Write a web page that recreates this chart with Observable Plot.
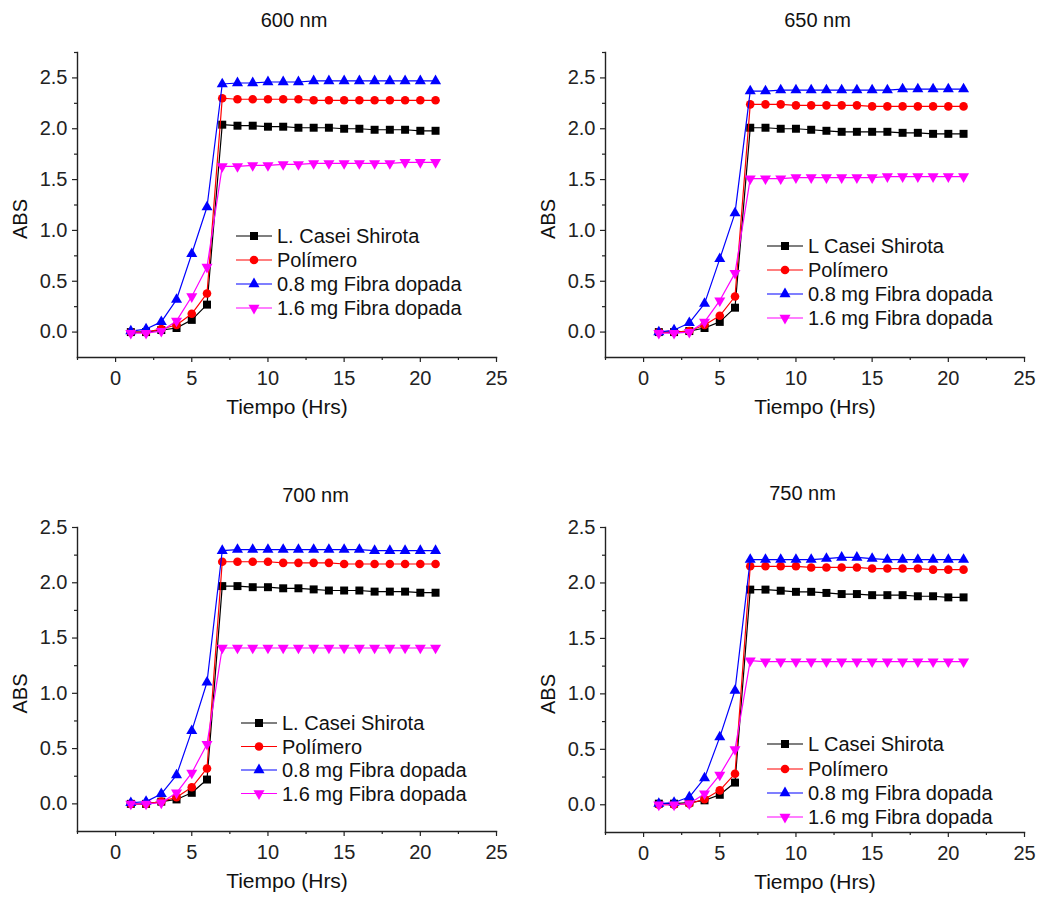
<!DOCTYPE html>
<html><head><meta charset="utf-8">
<script src="https://cdn.jsdelivr.net/npm/d3@7"></script>
<script src="https://cdn.jsdelivr.net/npm/@observablehq/plot@0.6"></script>
<style>
body{margin:0;background:#fff;}
#fig{position:relative;width:1039px;height:897px;font-family:"Liberation Sans",Arial,sans-serif;}
#fig > svg{position:absolute;}
</style></head><body><div id="fig"></div>
<script>
// ---------- data ----------
const hours = [1,2,3,4,5,6,7,8,9,10,11,12,13,14,15,16,17,18,19,20,21];
const seriesNames = ["L. Casei Shirota","Polímero","0.8 mg Fibra dopada","1.6 mg Fibra dopada"];
const seriesColors = ["#000000","#ff0000","#0000ff","#ff00ff"];

const nm600_casei    = [0.00,0.00,0.02,0.04,0.12,0.27,2.04,2.03,2.03,2.02,2.02,2.01,2.01,2.01,2.00,2.00,1.99,1.99,1.99,1.98,1.98];
const nm600_polimero = [0.00,0.00,0.03,0.07,0.18,0.38,2.30,2.29,2.29,2.29,2.29,2.29,2.28,2.28,2.28,2.28,2.28,2.28,2.28,2.28,2.28];
const nm600_fibra08  = [0.01,0.03,0.10,0.32,0.77,1.23,2.44,2.45,2.45,2.46,2.46,2.46,2.47,2.47,2.47,2.47,2.47,2.47,2.47,2.47,2.47];
const nm600_fibra16  = [-0.01,-0.01,0.01,0.11,0.35,0.64,1.63,1.63,1.64,1.64,1.65,1.65,1.66,1.66,1.66,1.66,1.66,1.66,1.67,1.67,1.67];

const nm650_casei    = [0.00,0.00,0.01,0.04,0.10,0.24,2.01,2.01,2.00,2.00,1.99,1.98,1.97,1.97,1.97,1.97,1.96,1.96,1.95,1.95,1.95];
const nm650_polimero = [0.00,0.00,0.01,0.07,0.16,0.35,2.24,2.24,2.24,2.23,2.23,2.23,2.23,2.23,2.22,2.22,2.22,2.22,2.22,2.22,2.22];
const nm650_fibra08  = [0.00,0.02,0.09,0.28,0.72,1.17,2.37,2.37,2.38,2.38,2.38,2.38,2.38,2.38,2.38,2.38,2.39,2.39,2.39,2.39,2.39];
const nm650_fibra16  = [-0.01,-0.01,0.00,0.10,0.31,0.58,1.51,1.51,1.51,1.52,1.52,1.52,1.52,1.52,1.52,1.53,1.53,1.53,1.53,1.53,1.53];

const nm700_casei    = [0.00,0.00,0.02,0.04,0.10,0.22,1.97,1.97,1.96,1.96,1.95,1.95,1.94,1.93,1.93,1.93,1.92,1.92,1.92,1.91,1.91];
const nm700_polimero = [0.00,0.00,0.02,0.06,0.15,0.32,2.19,2.19,2.19,2.19,2.18,2.18,2.18,2.18,2.17,2.17,2.17,2.17,2.17,2.17,2.17];
const nm700_fibra08  = [0.01,0.02,0.09,0.26,0.66,1.10,2.29,2.30,2.30,2.30,2.30,2.30,2.30,2.30,2.30,2.30,2.29,2.29,2.29,2.29,2.29];
const nm700_fibra16  = [0.00,0.00,0.01,0.10,0.28,0.54,1.41,1.41,1.41,1.41,1.41,1.41,1.41,1.41,1.41,1.41,1.41,1.41,1.41,1.41,1.41];

const nm750_casei    = [0.01,0.01,0.02,0.04,0.09,0.20,1.94,1.94,1.93,1.92,1.92,1.91,1.90,1.90,1.89,1.89,1.89,1.88,1.88,1.87,1.87];
const nm750_polimero = [0.00,0.00,0.01,0.05,0.13,0.28,2.15,2.15,2.15,2.15,2.14,2.14,2.14,2.14,2.13,2.13,2.13,2.13,2.12,2.12,2.12];
const nm750_fibra08  = [0.01,0.02,0.07,0.24,0.61,1.03,2.21,2.21,2.21,2.21,2.21,2.22,2.23,2.23,2.22,2.21,2.21,2.21,2.21,2.21,2.21];
const nm750_fibra16  = [0.00,0.00,0.01,0.10,0.27,0.50,1.30,1.29,1.29,1.29,1.29,1.29,1.29,1.29,1.29,1.29,1.29,1.29,1.29,1.29,1.29];

const xTicks = [0,5,10,15,20,25];
const xMinorTicks = [-2.5,2.5,7.5,12.5,17.5,22.5];
const yTicks = [0,0.5,1,1.5,2,2.5];
const yMinorTop = [0.25,0.75,1.25,1.75,2.25,2.75];
const yMinorBottom = [0.25,0.75,1.25,1.75,2.25];

// ---------- symbols ----------
const triangleDown = {
  draw(context, size) {
    const y = -Math.sqrt(size / (Math.sqrt(3) * 3));
    context.moveTo(0, -y * 2);
    context.lineTo(-Math.sqrt(3) * y, y);
    context.lineTo(Math.sqrt(3) * y, y);
    context.closePath();
  }
};
const seriesSymbols = [d3.symbolSquare, d3.symbolCircle, d3.symbolTriangle, triangleDown];
const seriesR = [4.5, 4.3, 4.1, 4.1];

// ---------- panels ----------
const panels = [
  {title:"600 nm", firstName:"L. Casei Shirota", values:[nm600_casei,nm600_polimero,nm600_fibra08,nm600_fibra16],
   left:0, top:0, width:520, height:440, mL:77, mR:24, mT:52, mB:83, yDomain:[-0.25,2.75], yMinor:yMinorTop,
   titleDx:7, titleDy:-32, legend:{rows:[236,260,284,308], x0:236, x1:272, xm:254, xt:277}},
  {title:"650 nm", firstName:"L Casei Shirota", values:[nm650_casei,nm650_polimero,nm650_fibra08,nm650_fibra16],
   left:520, top:0, width:519, height:440, mL:85, mR:15, mT:52, mB:83, yDomain:[-0.25,2.75], yMinor:yMinorTop,
   titleDx:2.5, titleDy:-32, legend:{rows:[246,270,294,318], x0:247, x1:283, xm:265, xt:288}},
  {title:"700 nm", firstName:"L. Casei Shirota", values:[nm700_casei,nm700_polimero,nm700_fibra08,nm700_fibra16],
   left:0, top:460, width:520, height:437, mL:77, mR:24, mT:67, mB:66, yDomain:[-0.25,2.5], yMinor:yMinorBottom,
   titleDx:28.5, titleDy:-32, legend:{rows:[263,286.5,310,333.5], x0:241, x1:277, xm:259, xt:282}},
  {title:"750 nm", firstName:"L Casei Shirota", values:[nm750_casei,nm750_polimero,nm750_fibra08,nm750_fibra16],
   left:520, top:460, width:519, height:437, mL:85, mR:15, mT:67, mB:65, yDomain:[-0.25,2.5], yMinor:yMinorBottom,
   titleDx:-12.5, titleDy:-34, legend:{rows:[284,309,333,357], x0:247, x1:283, xm:265, xt:288}}
];

const fig = document.getElementById("fig");
const axisColor = "#222";
const font = "'Liberation Sans', Arial, sans-serif";

for (const p of panels) {
  const seriesMarks = [];
  p.values.forEach((vals, i) => {
    const rows = hours.map((h, j) => ({x: h, y: vals[j]}));
    seriesMarks.push(Plot.line(rows, {x:"x", y:"y", stroke:seriesColors[i], strokeWidth:1.2}));
    seriesMarks.push(Plot.dot(rows, {x:"x", y:"y", fill:seriesColors[i], stroke:"none", symbol:seriesSymbols[i], r:seriesR[i]}));
  });
  const svg = Plot.plot({
    width: p.width, height: p.height,
    marginLeft: p.mL, marginRight: p.mR, marginTop: p.mT, marginBottom: p.mB,
    x: {domain:[-2.5,25]},
    y: {domain:p.yDomain},
    style: {fontFamily: font, fontSize:"20px", color: axisColor, background:"transparent", overflow:"visible"},
    marks: [
      Plot.axisX({ticks:xTicks, tickSize:5, tickPadding:8, label:null, fontSize:20, stroke:axisColor, strokeWidth:1.2}),
      Plot.axisX({ticks:xMinorTicks, tickSize:3, tickFormat:() => "", label:null, stroke:axisColor, strokeWidth:1.2}),
      Plot.axisY({ticks:yTicks, tickSize:5, tickPadding:5, label:null, fontSize:20, tickFormat:d3.format(".1f"), stroke:axisColor, strokeWidth:1.2}),
      Plot.axisY({ticks:p.yMinor, tickSize:3, tickFormat:() => "", label:null, stroke:axisColor, strokeWidth:1.2}),
      Plot.frame({anchor:"left", stroke:axisColor, strokeWidth:1.4}),
      Plot.frame({anchor:"bottom", stroke:axisColor, strokeWidth:1.4}),
      ...seriesMarks,
      Plot.text([p.title], {frameAnchor:"top", dx:p.titleDx, dy:p.titleDy, fontSize:20, fill:"#111", lineAnchor:"middle"}),
      Plot.text(["Tiempo (Hrs)"], {frameAnchor:"bottom", dy:50, fontSize:21, fill:"#111", lineAnchor:"middle"}),
      Plot.text(["ABS"], {frameAnchor:"left", dx:-57, dy:14, rotate:-90, fontSize:20, fill:"#111", lineAnchor:"middle", textAnchor:"middle"})
    ]
  });
  svg.style.left = p.left + "px";
  svg.style.top = p.top + "px";
  fig.appendChild(svg);

  // legend
  const names = [p.firstName, ...seriesNames.slice(1)];
  const g = d3.select(svg).append("g").attr("class","legend").attr("text-anchor","start");
  names.forEach((name, i) => {
    const y = p.legend.rows[i];
    g.append("line").attr("x1", p.legend.x0).attr("x2", p.legend.x1).attr("y1", y).attr("y2", y)
      .attr("stroke", seriesColors[i]).attr("stroke-width", 1.2);
    g.append("path").attr("transform", `translate(${p.legend.xm},${y})`)
      .attr("d", d3.symbol(seriesSymbols[i], Math.PI * seriesR[i] * seriesR[i])())
      .attr("fill", seriesColors[i]);
    g.append("text").attr("x", p.legend.xt).attr("y", y).attr("dy", "0.36em")
      .attr("text-anchor", "start")
      .attr("font-size", 20).attr("fill", "#111").attr("font-family", font).text(name);
  });
}
</script>
</body></html>
